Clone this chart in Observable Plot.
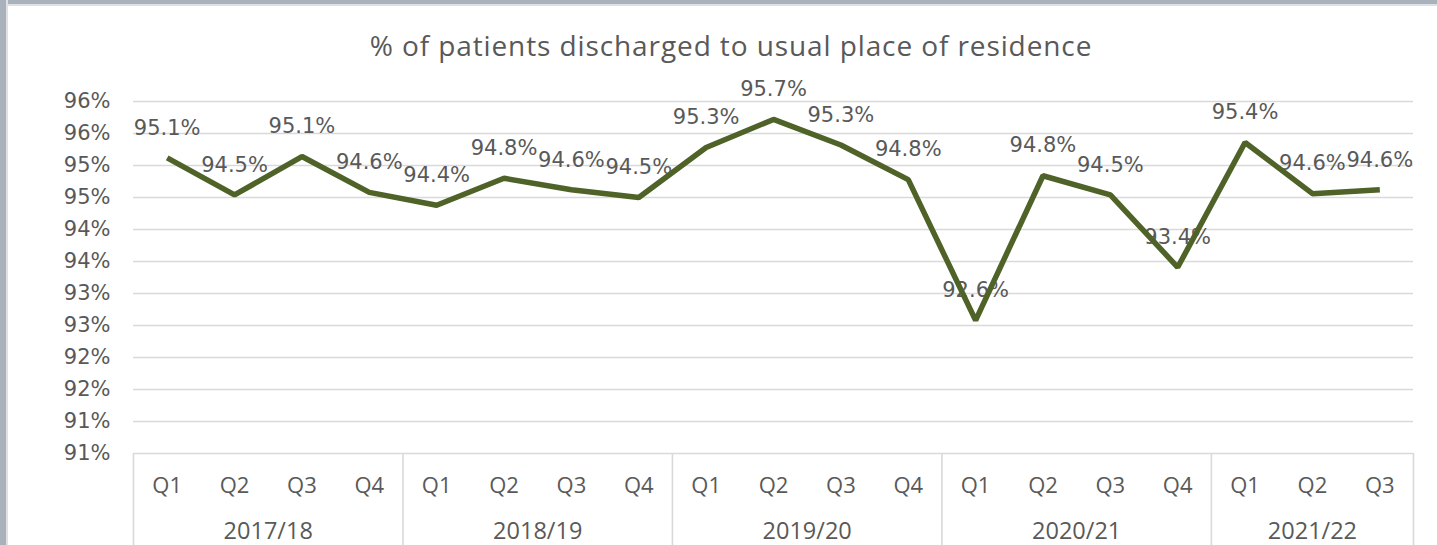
<!DOCTYPE html>
<html>
<head>
<meta charset="utf-8">
<script src="https://cdn.jsdelivr.net/npm/d3@7"></script>
<script src="https://cdn.jsdelivr.net/npm/@observablehq/plot@0.6"></script>
<style>
  html, body { margin: 0; padding: 0; background: #fff; }
  body { width: 1437px; height: 545px; overflow: hidden; position: relative; }
  #bt { position: absolute; left: 0; top: 0; width: 1437px; height: 4px; background: #a9b1bb; z-index: 2; }
  #bt2 { position: absolute; left: 0; top: 4px; width: 1437px; height: 2px; background: #dde0e4; z-index: 2; }
  #bl { position: absolute; left: 0; top: 0; width: 6px; height: 545px; background: #a9b1bb; z-index: 2; }
  #bl2 { position: absolute; left: 6px; top: 0; width: 2px; height: 545px; background: #dde0e4; z-index: 2; }
  #title { position: absolute; left: 25px; width: 1412px; top: 27px; height: 36px; line-height: 36px;
           text-align: center; font-family: "Open Sans", sans-serif; font-size: 28px; letter-spacing: 0.9px; color: #595959; }
  #chart { position: absolute; left: 0; top: 70px; }
</style>
</head>
<body>
<div id="bt"></div><div id="bt2"></div><div id="bl"></div><div id="bl2"></div>
<div id="title">% of patients discharged to usual place of residence</div>
<div id="chart"></div>
<script>
const quarters = ["Q1","Q2","Q3","Q4","Q1","Q2","Q3","Q4","Q1","Q2","Q3","Q4","Q1","Q2","Q3","Q4","Q1","Q2","Q3"];
const values = [95.12, 94.54, 95.14, 94.58, 94.38, 94.80, 94.62, 94.50, 95.28, 95.72, 95.32, 94.78, 92.58, 94.84, 94.54, 93.41, 95.36, 94.56, 94.62];
const years = ["2017/18","2018/19","2019/20","2020/21","2021/22"];
const quartersPerYear = [4, 4, 4, 4, 3];
const yTicks = [90.5, 91, 91.5, 92, 92.5, 93, 93.5, 94, 94.5, 95, 95.5, 96];

const data = values.map((v, i) => ({i, v, q: quarters[i]}));
let start = 0;
const yearData = [];
const boundaries = [-0.5];
years.forEach((y, k) => {
  const n = quartersPerYear[k];
  yearData.push({year: y, c: start + (n - 1) / 2});
  start += n;
  boundaries.push(start - 0.5);
});

const textColor = "#595959";
const gridColor = "#d9d9d9";

const chart = Plot.plot({
  width: 1437,
  height: 475,
  marginTop: 31,
  marginBottom: 92,
  marginLeft: 133,
  marginRight: 24,
  style: {background: "#fff", color: textColor, fontFamily: "Open Sans, sans-serif"},
  x: {type: "linear", domain: [-0.5, values.length - 0.5], axis: null},
  y: {domain: [90.5, 96], axis: null},
  marks: [
    Plot.gridY(yTicks, {stroke: gridColor, strokeOpacity: 1, strokeWidth: 1.6}),
    Plot.axisY(yTicks, {
      label: null, tickSize: 0, tickPadding: 23, tickFormat: d => Math.round(d) + "%",
      fontSize: 21, fontFamily: "DejaVu Sans", fill: textColor
    }),
    Plot.axisX(boundaries, {
      label: null, tickSize: 92, tickFormat: () => "", stroke: gridColor, strokeWidth: 1.6
    }),
    Plot.text(data, {
      x: "i", text: "q", frameAnchor: "bottom", dy: 39,
      fontSize: 22, fontFamily: "Open Sans", fill: textColor
    }),
    Plot.text(yearData, {
      x: "c", text: "year", frameAnchor: "bottom", dy: 85,
      fontSize: 23.5, fontFamily: "Open Sans", fill: textColor
    }),
    Plot.text(data, {
      x: "i", y: "v", text: d => d.v.toFixed(1) + "%", dy: -30,
      fontSize: 21, fontFamily: "DejaVu Sans", fill: textColor
    }),
    Plot.line(data, {
      x: "i", y: "v", stroke: "#4f6228", strokeWidth: 5.5, strokeLinejoin: "miter", strokeLinecap: "butt"
    })
  ]
});
document.getElementById("chart").appendChild(chart);
</script>
</body>
</html>
